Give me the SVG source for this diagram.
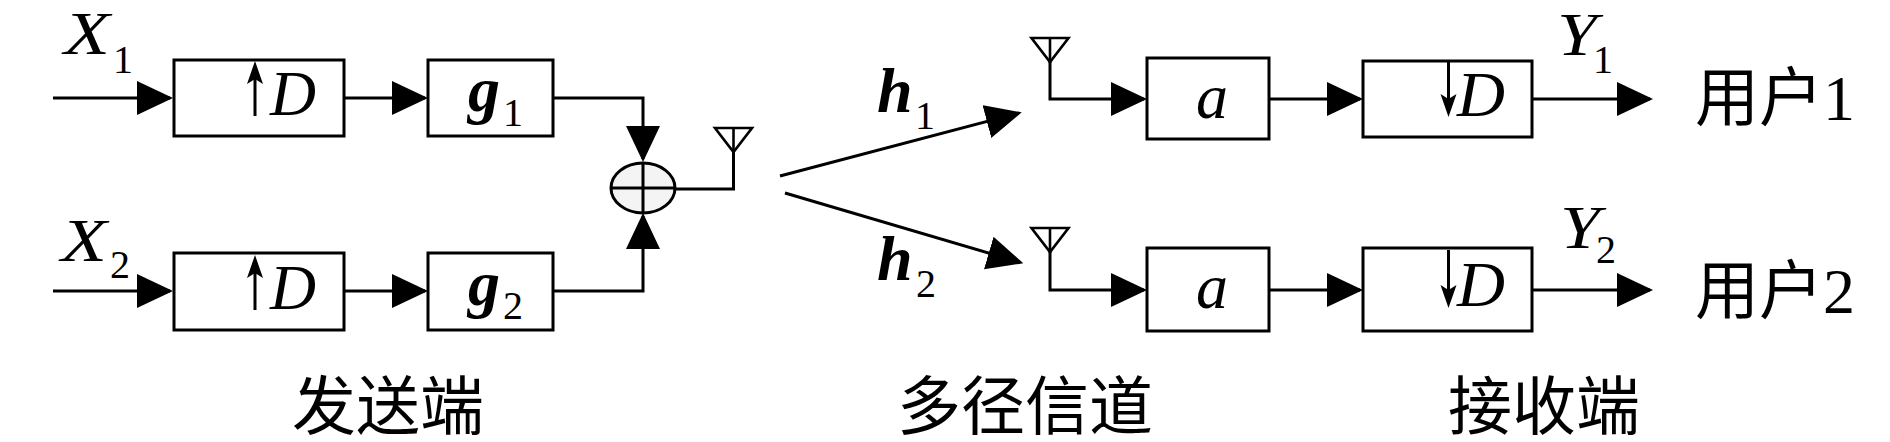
<svg xmlns="http://www.w3.org/2000/svg" width="1890" height="442" viewBox="0 0 1890 442">
<style>
.ln{fill:none;stroke:#000;stroke-width:3}
.bx{fill:#fff;stroke:#000;stroke-width:3}
.ant{fill:#fff;stroke:#000;stroke-width:2.6;stroke-linejoin:miter}
.m{font-family:"Liberation Serif",serif;font-style:italic;font-size:64px;fill:#000}
.mx{font-family:"Liberation Serif",serif;font-style:italic;font-size:61px;fill:#000}
.mb{font-family:"Liberation Serif",serif;font-style:italic;font-weight:bold;font-size:64px;fill:#000}
.s{font-family:"Liberation Serif",serif;font-size:40px;fill:#000}
.cn{font-family:"Liberation Serif","Noto Sans CJK SC",serif;font-size:64px;fill:#000}
.ar{fill:#000}
</style>
<defs>
<marker id="arr" markerUnits="userSpaceOnUse" markerWidth="36" markerHeight="34" refX="33" refY="17" orient="auto" viewBox="0 0 36 34">
<path d="M0,0 L36,17 L0,34 Z" fill="#000"/>
</marker>
</defs>
<rect width="1890" height="442" fill="#fff"/>

<g id="connectors">
<line class="ln" x1="53" y1="98" x2="170" y2="98" marker-end="url(#arr)"/>
<line class="ln" x1="344" y1="98" x2="425" y2="98" marker-end="url(#arr)"/>
<polyline class="ln" points="553,98 643,98 643,159" marker-end="url(#arr)"/>
<line class="ln" x1="53" y1="291" x2="170" y2="291" marker-end="url(#arr)"/>
<line class="ln" x1="344" y1="291" x2="425" y2="291" marker-end="url(#arr)"/>
<polyline class="ln" points="553,291 643,291 643,216" marker-end="url(#arr)"/>
<polyline class="ln" points="675,189 733.5,189 733.5,150"/>
<line class="ln" x1="780" y1="176" x2="1018.8" y2="113.1" marker-end="url(#arr)"/>
<line class="ln" x1="785" y1="193" x2="1020.4" y2="262.4" marker-end="url(#arr)"/>
<polyline class="ln" points="1050,60 1050,99 1144,99" marker-end="url(#arr)"/>
<line class="ln" x1="1269" y1="99" x2="1360" y2="99" marker-end="url(#arr)"/>
<line class="ln" x1="1532" y1="99" x2="1650" y2="99" marker-end="url(#arr)"/>
<polyline class="ln" points="1050,250 1050,290 1144,290" marker-end="url(#arr)"/>
<line class="ln" x1="1269" y1="290" x2="1360" y2="290" marker-end="url(#arr)"/>
<line class="ln" x1="1532" y1="290" x2="1650" y2="290" marker-end="url(#arr)"/>
</g>

<g id="label-x1"><text class="mx" x="64" y="54" textLength="46" lengthAdjust="spacingAndGlyphs">X</text><text class="s" x="113" y="73">1</text></g>
<g id="label-x2"><text class="mx" x="61" y="261" textLength="46" lengthAdjust="spacingAndGlyphs">X</text><text class="s" x="110" y="278">2</text></g>

<g id="up1">
<rect class="bx" x="174" y="60" width="170" height="76"/>
<line class="ln" x1="255" y1="116" x2="255" y2="72"/>
<path class="ar" d="M255,61 L263,84 L255,79 L247,84 Z"/>
<text class="m" x="270" y="115" textLength="46" lengthAdjust="spacingAndGlyphs">D</text>
</g>
<g id="g1">
<rect class="bx" x="428" y="60" width="125" height="76"/>
<text class="mb" x="468" y="111">g</text><text class="s" x="503" y="126">1</text>
</g>
<g id="up2">
<rect class="bx" x="174" y="253" width="170" height="77"/>
<line class="ln" x1="255" y1="310" x2="255" y2="266"/>
<path class="ar" d="M255,255 L263,278 L255,273 L247,278 Z"/>
<text class="m" x="270" y="309" textLength="46" lengthAdjust="spacingAndGlyphs">D</text>
</g>
<g id="g2">
<rect class="bx" x="428" y="253" width="125" height="77"/>
<text class="mb" x="468" y="305">g</text><text class="s" x="503" y="319">2</text>
</g>

<g id="sum">
<ellipse cx="643" cy="188" rx="32" ry="25" fill="#f4f4f4" stroke="#000" stroke-width="3"/>
<line class="ln" x1="643" y1="163" x2="643" y2="213"/>
<line class="ln" x1="611" y1="188" x2="675" y2="188"/>
</g>
<g id="tx-antenna">
<path class="ant" d="M715,128 L752,128 L733.5,152 Z"/>
<line class="ant" x1="733.5" y1="128" x2="733.5" y2="153"/>
</g>

<g id="label-h1"><text class="mb" x="877" y="112">h</text><text class="s" x="915" y="129">1</text></g>
<g id="label-h2"><text class="mb" x="877" y="280">h</text><text class="s" x="916" y="297">2</text></g>

<g id="rx-antenna1">
<path class="ant" d="M1031.5,38 L1068.5,38 L1050,62 Z"/>
<line class="ant" x1="1050" y1="38" x2="1050" y2="63"/>
</g>
<g id="rx-antenna2">
<path class="ant" d="M1031.5,228 L1068.5,228 L1050,252 Z"/>
<line class="ant" x1="1050" y1="228" x2="1050" y2="253"/>
</g>

<g id="a1">
<rect class="bx" x="1147" y="58" width="122" height="81"/>
<text class="m" x="1196" y="118">a</text>
</g>
<g id="down1">
<rect class="bx" x="1363" y="61" width="169" height="76"/>
<line class="ln" x1="1448.5" y1="62" x2="1448.5" y2="106"/>
<path class="ar" d="M1448.5,117 L1456.5,94 L1448.5,99 L1440.5,94 Z"/>
<text class="m" x="1457" y="116" textLength="48" lengthAdjust="spacingAndGlyphs">D</text>
</g>
<g id="a2">
<rect class="bx" x="1147" y="248" width="122" height="83"/>
<text class="m" x="1196" y="308">a</text>
</g>
<g id="down2">
<rect class="bx" x="1363" y="248" width="169" height="83"/>
<line class="ln" x1="1448.5" y1="250" x2="1448.5" y2="297"/>
<path class="ar" d="M1448.5,308 L1456.5,285 L1448.5,290 L1440.5,285 Z"/>
<text class="m" x="1457" y="306" textLength="48" lengthAdjust="spacingAndGlyphs">D</text>
</g>

<g id="label-y1"><text class="mx" x="1557" y="55" textLength="40" lengthAdjust="spacingAndGlyphs">Y</text><text class="s" x="1593" y="73">1</text></g>
<g id="label-y2"><text class="mx" x="1560" y="248" textLength="40" lengthAdjust="spacingAndGlyphs">Y</text><text class="s" x="1596" y="263">2</text></g>

<g id="user1"><text class="cn" x="1695" y="120">用户1</text></g>
<g id="user2"><text class="cn" x="1695" y="313">用户2</text></g>

<g id="captions">
<text class="cn" x="292" y="429">发送端</text>
<text class="cn" x="897" y="429">多径信道</text>
<text class="cn" x="1448" y="429">接收端</text>
</g>
</svg>
